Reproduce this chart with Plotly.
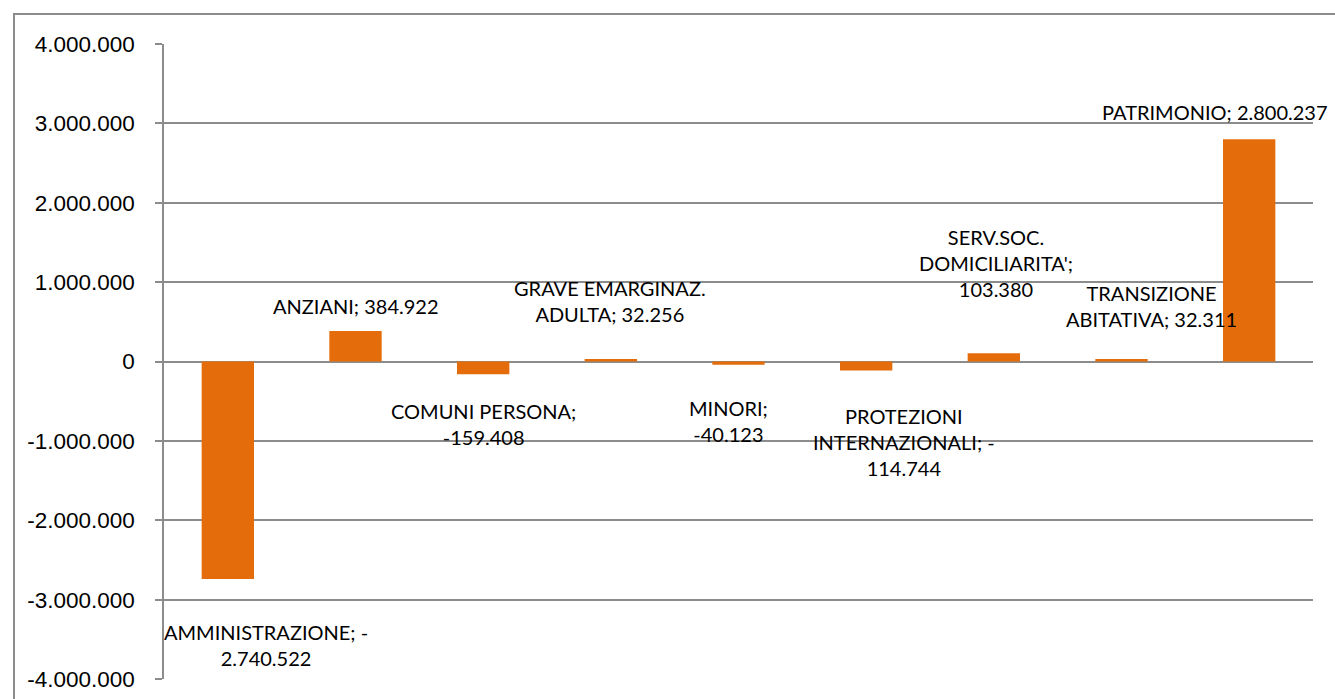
import plotly.graph_objects as go

categories = ["AMMINISTRAZIONE", "ANZIANI", "COMUNI PERSONA", "GRAVE EMARGINAZ. ADULTA",
              "MINORI", "PROTEZIONI INTERNAZIONALI", "SERV.SOC. DOMICILIARITA'",
              "TRANSIZIONE ABITATIVA", "PATRIMONIO"]
values = [-2740522, 384922, -159408, 32256, -40123, -114744, 103380, 32311, 2800237]
tick_vals = [-4000000, -3000000, -2000000, -1000000, 0, 1000000, 2000000, 3000000, 4000000]

# label placement (style): wrap width in chars, pixel shifts
wrap_w = [18, 40, 16, 16, 8, 17, 15, 17, 40]
x_shift = [38, 0, 0, -1, -10, 38, 2, 30, -34]
y_shift = [-66, 25, -50, 58, -56, -71, 90, 53, 27]

BAR = "#E46C0A"
GRID = "#8C8C8C"


def fmt(v):
    s = f"{abs(int(v)):,}".replace(",", ".")
    return ("-" if v < 0 else "") + s


def wrap_label(name, v, w):
    # greedy wrap where a leading minus may stay on the previous line
    toks = name.split(" ")
    toks[-1] = toks[-1] + ";"
    num = fmt(v)
    lines = []
    cur = ""
    for t in toks:
        cand = (cur + " " + t) if cur else t
        if len(cand) <= w or not cur:
            cur = cand
        else:
            lines.append(cur)
            cur = t
    if num.startswith("-"):
        if len(cur + " -") <= w:
            cur = cur + " -"
            rest = num[1:]
        else:
            rest = num
        if cur.endswith("-") and len(cur + rest) <= w:
            cur = cur + rest
        elif not cur.endswith("-") and len(cur + " " + rest) <= w:
            cur = cur + " " + rest
        else:
            lines.append(cur)
            cur = rest
    else:
        if len(cur + " " + num) <= w:
            cur = cur + " " + num
        else:
            lines.append(cur)
            cur = num
    lines.append(cur)
    return "<br>".join(lines)


fig = go.Figure()
fig.add_trace(go.Bar(
    x=categories, y=values, marker=dict(color=BAR, line=dict(width=0)),
    width=0.41, hoverinfo="skip", showlegend=False,
))

for c, v, w, dx, dy in zip(categories, values, wrap_w, x_shift, y_shift):
    fig.add_annotation(
        x=c, y=v, xref="x", yref="y", text=wrap_label(c, v, w), showarrow=False,
        xanchor="center", yanchor="middle", align="center", xshift=dx, yshift=dy,
        font=dict(family="Lato", size=20, color="#000000"),
    )

fig.add_shape(type="rect", xref="paper", yref="paper",
              x0=(14 - 164) / 1149, x1=1.1, y0=-0.1, y1=(679 - 14) / 635,
              line=dict(color=GRID, width=2), fillcolor="rgba(0,0,0,0)", layer="below")

fig.update_layout(
    width=1335, height=699, autosize=False,
    margin=dict(l=164, r=22, t=44, b=20, autoexpand=False),
    paper_bgcolor="white", plot_bgcolor="white",
    showlegend=False,
)
fig.update_xaxes(showticklabels=False, showgrid=False, zeroline=False, showline=False,
                 ticks="", range=[-0.5, len(categories) - 0.5], automargin=False)
fig.update_yaxes(range=[-4000000, 4000000], tickvals=tick_vals,
                 ticktext=[fmt(t) for t in tick_vals], automargin=False,
                 showgrid=True, gridcolor=GRID, gridwidth=1.5,
                 zeroline=False, showline=True, linecolor=GRID, linewidth=1.5,
                 ticks="outside", ticklen=7, tickcolor=GRID, tickwidth=1.5,
                 ticklabelstandoff=16,
                 tickfont=dict(family="Liberation Sans", size=22.5, color="#000000"))

fig.write_html("out.html", config={"displayModeBar": False},
               post_script="document.body.style.margin='0';document.body.style.overflow='hidden';")
